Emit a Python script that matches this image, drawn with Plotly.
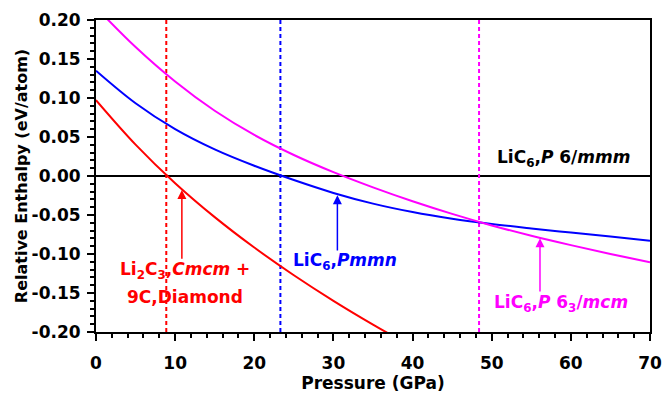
import plotly.graph_objects as go

# ---- data ----
red_p = [0, 5, 10, 15, 20, 25, 30, 35, 40]
red_h = [0.0973, 0.0403, -0.0092, -0.0527, -0.0917, -0.1272, -0.1600, -0.1905, -0.2192]

blue_p = [0, 5, 10, 15, 20, 25, 30, 35, 40, 45, 50, 55, 60, 65, 70]
blue_h = [0.135, 0.0933, 0.0601, 0.0341, 0.0131, -0.0052, -0.0217, -0.0354, -0.0462, -0.0547, -0.0615, -0.0672, -0.0725, -0.0777, -0.0830]

mag_p = [0, 5, 10, 15, 20, 25, 30, 35, 40, 45, 50, 55, 60, 65, 70]
mag_h = [0.2161, 0.1653, 0.1211, 0.0836, 0.0526, 0.0269, 0.0049, -0.0146, -0.0324, -0.0486, -0.0634, -0.0766, -0.0886, -0.0999, -0.1106]

transition_p = [8.88, 23.3, 48.4]
transition_colors = ["#ff0000", "#0000ff", "#ff00ff"]

x_ticks = [0, 10, 20, 30, 40, 50, 60, 70]
y_ticks = [0.20, 0.15, 0.10, 0.05, 0.00, -0.05, -0.10, -0.15, -0.20]
y_tick_text = ["0.20", "0.15", "0.10", "0.05", "0.00", "-0.05", "-0.10", "-0.15", "-0.20"]

x_range = [0, 70]
y_range = [-0.20, 0.20]

FONT = "DejaVu Sans"

fig = go.Figure()

for p, c in zip(transition_p, transition_colors):
    fig.add_trace(go.Scatter(x=[p, p], y=y_range, mode="lines",
                             line=dict(color=c, width=2, dash="4px,3px"),
                             showlegend=False, hoverinfo="skip"))

fig.add_trace(go.Scatter(x=red_p, y=red_h, mode="lines", line=dict(color="#ff0000", width=2, shape="spline"), showlegend=False))
fig.add_trace(go.Scatter(x=blue_p, y=blue_h, mode="lines", line=dict(color="#0000ff", width=2, shape="spline"), showlegend=False))
fig.add_trace(go.Scatter(x=mag_p, y=mag_h, mode="lines", line=dict(color="#ff00ff", width=2, shape="spline"), showlegend=False))

tf = dict(family=FONT, size=17, color="black", weight="bold")

# arrows
arrows = [
    (10.85, -0.018, 10.85, -0.108, "#ff0000"),
    (30.5, -0.0246, 30.5, -0.0973, "#0000ff"),
    (56.1, -0.0797, 56.1, -0.150, "#ff00ff"),
]
for x, y, ax, ay, c in arrows:
    fig.add_annotation(x=x, y=y, ax=ax, ay=ay, xref="x", yref="y", axref="x", ayref="y",
                       text="", showarrow=True, arrowhead=2, arrowsize=1.2, arrowwidth=1.5,
                       arrowcolor=c, standoff=0, startstandoff=0)

labels = [
    (59.1, 0.0223, "LiC<sub>6</sub>,<i>P</i> 6/<i>mmm</i>", "black"),
    (11.3, -0.1208, "Li<sub>2</sub>C<sub>3</sub>,<i>Cmcm</i> +", "#ff0000"),
    (11.3, -0.155, "9C,Diamond", "#ff0000"),
    (31.5, -0.110, "LiC<sub>6</sub>,<i>Pmmn</i>", "#0000ff"),
    (58.8, -0.163, "LiC<sub>6</sub>,<i>P</i> 6<sub>3</sub>/<i>mcm</i>", "#ff00ff"),
]
for x, y, t, c in labels:
    fig.add_annotation(x=x, y=y, xref="x", yref="y", text=t, showarrow=False,
                       font=dict(family=FONT, size=17, color=c, weight="bold"),
                       xanchor="center", yanchor="middle")

fig.update_layout(
    width=662, height=395,
    margin=dict(l=96, r=12, t=20, b=63),
    plot_bgcolor="white", paper_bgcolor="white",
    showlegend=False,
)

fig.update_xaxes(
    range=x_range, tickvals=x_ticks, ticks="outside", ticklen=7, tickwidth=2, tickcolor="black",
    showline=True, linecolor="black", linewidth=2, mirror=True, automargin=False,
    showgrid=False, zeroline=False, tickfont=tf, ticklabelstandoff=8,
    minor=dict(dtick=2, tick0=0, ticks="outside", ticklen=4, tickwidth=1.5, tickcolor="black", showgrid=False),
    title=dict(text="Pressure (GPa)", font=dict(family=FONT, size=17, color="black", weight="bold"), standoff=0),
)
fig.update_yaxes(
    range=y_range, tickvals=y_ticks, ticktext=y_tick_text, ticks="outside", ticklen=7, tickwidth=2, tickcolor="black",
    showline=True, linecolor="black", linewidth=2, mirror=True, automargin=False,
    showgrid=False, zeroline=True, zerolinecolor="black", zerolinewidth=1.5,
    tickfont=tf, ticklabelstandoff=3,
    minor=dict(dtick=0.01, tick0=0, ticks="outside", ticklen=4, tickwidth=1.5, tickcolor="black", showgrid=False),
    title=dict(text="Relative Enthalpy (eV/atom)", font=dict(family=FONT, size=16, color="black", weight="bold"), standoff=0),
)

fig.write_html("out.html")
